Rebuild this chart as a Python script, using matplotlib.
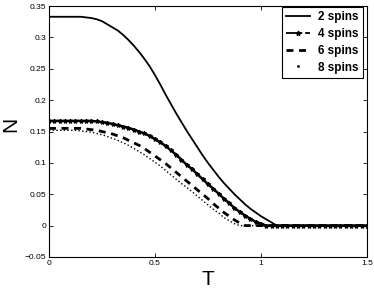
import numpy as np
import matplotlib
matplotlib.use('Agg')
import matplotlib.pyplot as plt
from matplotlib.lines import Line2D

plt.rcParams['font.family'] = ['Liberation Sans', 'DejaVu Sans']

# temperature grid (0 to 1.5, step 0.025)
T = np.linspace(0, 1.5, 61)

# values
n2 = [0.333, 0.333, 0.333, 0.333, 0.333, 0.333, 0.333, 0.332, 0.331, 0.329,
      0.326, 0.321, 0.316, 0.311, 0.304, 0.296, 0.287, 0.277, 0.266, 0.254,
      0.240, 0.225, 0.209, 0.194, 0.179, 0.165, 0.151, 0.138, 0.125, 0.112,
      0.100, 0.089, 0.078, 0.068, 0.059, 0.050, 0.042, 0.034, 0.027, 0.021,
      0.015, 0.010, 0.005, 0.000, 0, 0, 0, 0, 0, 0,
      0, 0, 0, 0, 0, 0, 0, 0, 0, 0,
      0]
n4 = [0.167, 0.167, 0.167, 0.167, 0.167, 0.167, 0.167, 0.167, 0.167, 0.166,
      0.165, 0.164, 0.162, 0.160, 0.158, 0.156, 0.153, 0.150, 0.147, 0.143,
      0.138, 0.133, 0.127, 0.120, 0.113, 0.105, 0.097, 0.090, 0.082, 0.074,
      0.066, 0.059, 0.051, 0.043, 0.036, 0.028, 0.022, 0.016, 0.011, 0.006,
      0.003, 0.000, 0, 0, 0, 0, 0, 0, 0, 0,
      0, 0, 0, 0, 0, 0, 0, 0, 0, 0,
      0]
n6 = [0.155, 0.155, 0.155, 0.155, 0.155, 0.155, 0.155, 0.154, 0.153, 0.152,
      0.150, 0.148, 0.146, 0.143, 0.140, 0.136, 0.132, 0.128, 0.123, 0.117,
      0.111, 0.105, 0.099, 0.092, 0.085, 0.078, 0.071, 0.064, 0.057, 0.050,
      0.043, 0.035, 0.028, 0.021, 0.015, 0.009, 0.004, 0.000, 0, 0,
      0, 0, 0, 0, 0, 0, 0, 0, 0, 0,
      0, 0, 0, 0, 0, 0, 0, 0, 0, 0,
      0]
n8 = [0.152, 0.152, 0.152, 0.152, 0.152, 0.152, 0.151, 0.150, 0.149, 0.147,
      0.145, 0.142, 0.139, 0.136, 0.132, 0.128, 0.123, 0.118, 0.113, 0.107,
      0.101, 0.095, 0.088, 0.081, 0.074, 0.067, 0.061, 0.054, 0.047, 0.040,
      0.033, 0.026, 0.020, 0.013, 0.008, 0.003, 0.000, 0, 0, 0,
      0, 0, 0, 0, 0, 0, 0, 0, 0, 0,
      0, 0, 0, 0, 0, 0, 0, 0, 0, 0,
      0]
labels = ['2 spins', '4 spins', '6 spins', '8 spins']

yticks = [-0.05, 0, 0.05, 0.1, 0.15, 0.2, 0.25, 0.3, 0.35]
yticklabels = ['\u22120.05', '0', '0.05', '0.1', '0.15', '0.2', '0.25', '0.3', '0.35']
xticks = [0, 0.5, 1, 1.5]
xticklabels = ['0', '0.5', '1', '1.5']

fig = plt.figure(figsize=(3.74, 2.91), dpi=100)
ax = fig.add_axes([0.131, 0.117, 0.850, 0.862])

ax.plot(T, n8, color='black', ls=':', lw=1.0)
ax.plot(T, n6, color='black', ls='--', lw=2.0, dashes=(2.5, 2))
ax.plot(T, n4, color='black', ls='-', lw=1.8, marker='*', ms=3)
ax.plot(T, n2, color='black', ls='-', lw=1.3)

ax.set_xlim(0, 1.5)
ax.set_ylim(-0.05, 0.35)
ax.set_xticks(xticks)
ax.set_xticklabels(xticklabels)
ax.set_yticks(yticks)
ax.set_yticklabels(yticklabels)
ax.tick_params(direction='in', length=3, width=0.6, labelsize=6,
               top=True, right=True, pad=2)
for s in ax.spines.values():
    s.set_linewidth(0.8)

ax.set_xlabel('T', fontsize=15, labelpad=2)
ax.set_ylabel('N', fontsize=15)
ax.yaxis.set_label_coords(-0.09, 0.53)

handles = [
    Line2D([], [], color='black', ls='-', lw=1.3),
    Line2D([], [], color='black', ls='-.', lw=1.3, marker='*', ms=3.5,
           markevery=[1]),
    Line2D([], [], color='black', ls='--', lw=2.0, dashes=(2.5, 2)),
    Line2D([], [], color='black', ls='none', marker='.', ms=2),
]
leg = fig.legend(handles, labels, loc='upper right',
                 bbox_to_anchor=(0.970, 0.975),
                 prop={'weight': 'bold', 'size': 8.5},
                 frameon=True, fancybox=False, framealpha=1,
                 edgecolor='black', borderpad=0.35, labelspacing=0.4,
                 handlelength=2.0, handletextpad=0.7, borderaxespad=0)
leg.get_frame().set_linewidth(0.8)

plt.savefig('out.png', dpi=100)
